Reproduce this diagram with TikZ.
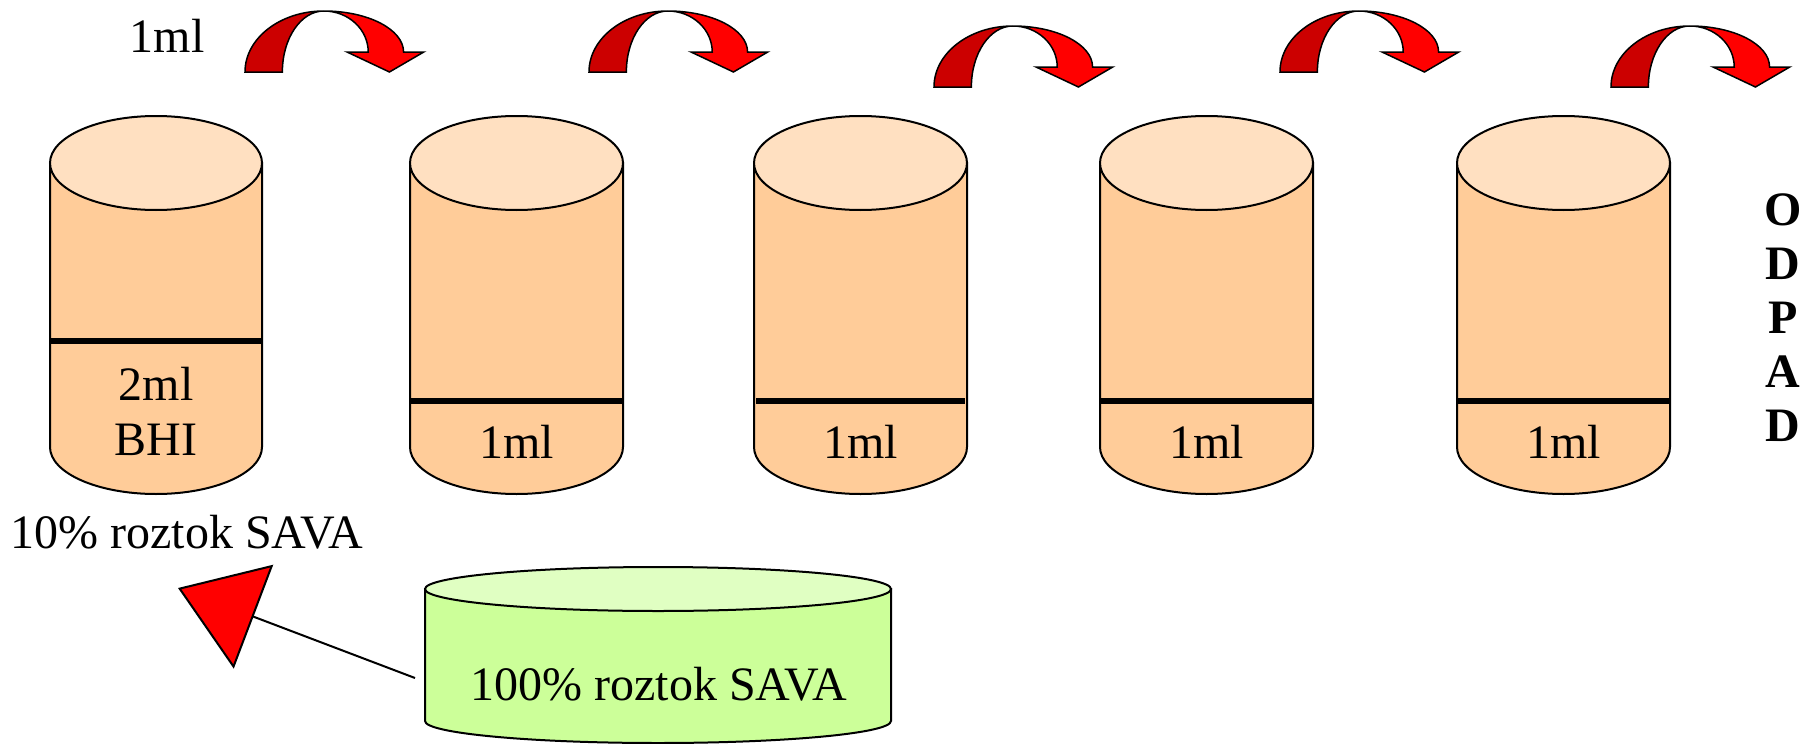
\documentclass[tikz,border=0pt]{standalone}
\usepackage{fontspec}
\setmainfont{Liberation Serif}
\usetikzlibrary{arrows.meta}
\definecolor{bodyc}{HTML}{FFCC99}
\definecolor{topc}{HTML}{FFE0C1}
\definecolor{greenb}{HTML}{CCFF99}
\definecolor{greent}{HTML}{E0FFC2}
\definecolor{arrdark}{HTML}{CC0000}
\definecolor{arrbright}{HTML}{FF0000}
\newcommand\tubecyl[7]{%
  \path[cylline, fill=#6] ({#1-#4},#2) -- ({#1-#4},#3)
    arc[start angle=180, end angle=0, x radius=#4, y radius=#5]
    -- ({#1+#4},#2) -- cycle;
  \path[cylline, fill=#7] (#1,#2) ellipse[x radius=#4, y radius=#5];
}
\tikzset{
  cylline/.style={draw=black, line width=1pt},
  levelline/.style={draw=black, line width=3pt},
  lbl/.style={inner sep=0pt, font=\fontsize{24}{28.8}\selectfont, anchor=base},
  boldlbl/.style={lbl, font=\fontsize{24}{28.8}\selectfont\bfseries},
  curvarrow/.pic={
    \path[draw=black, line width=0.75pt, fill=arrdark] (0,0)
      arc[start angle=180, end angle=270, x radius=78, y radius=61]
      arc[start angle=270, end angle=180, x radius=41, y radius=61] -- cycle;
    \path[draw=black, line width=0.75pt, fill=arrbright] (78,-61)
      arc[start angle=270, end angle=360, x radius=79, y radius=41]
      -- (177,-20) -- (143,0) -- (101,-20) -- (122,-20)
      arc[start angle=0, end angle=-90, x radius=44, y radius=41] -- cycle;
  }
}
\begin{document}
\begin{tikzpicture}[x=0.5pt, y=-0.5pt]
\useasboundingbox (0,0) rectangle (1805,744);

% curved arrows
\foreach \ax/\ay in {245/72, 589/72, 934/87, 1280/72, 1611/87}{
  \pic[xscale=1.01] at (\ax,\ay) {curvarrow};
}

\node[lbl] (mltop) at (167,52) {1ml};

% tubes
\tubecyl{156}{163}{447}{106}{47}{bodyc}{topc}
\draw[levelline] (50,341) -- (262,341);
\node[lbl] (c1a) at (156,400) {2ml};
\node[lbl] (c1b) at (156,455) {BHI};

\foreach \cx/\lx/\rx/\nm in {516.5/410/623/c2, 860.5/756/965/c3, 1206.5/1101/1312/c4, 1563.5/1458/1669/c5}{
  \tubecyl{\cx}{163}{447}{106.5}{47}{bodyc}{topc}
  \draw[levelline] (\lx,401) -- (\rx,401);
  \node[lbl] (\nm) at (\cx,458) {1ml};
}

% ODPAD
\foreach \ch/\yy/\nm in {O/225/o1, D/279/o2, P/333/o3, A/387/o4, D/441/o5}{
  \node[boldlbl] (\nm) at (1783,\yy) {\ch};
}

\node[lbl] (ten) at (187,548) {10\% roztok SAVA};

% green container
\tubecyl{658}{589}{721}{233}{22}{greenb}{greent}
\node[lbl] (hund) at (659,700) {100\% roztok SAVA};

\coordinate (gs) at (415,678);
\coordinate (tip) at (178,588);
\draw[line width=1pt, -{Triangle[length=40.4pt, width=55.4pt, fill=arrbright]}] (gs) -- (tip);
\end{tikzpicture}
\end{document}
